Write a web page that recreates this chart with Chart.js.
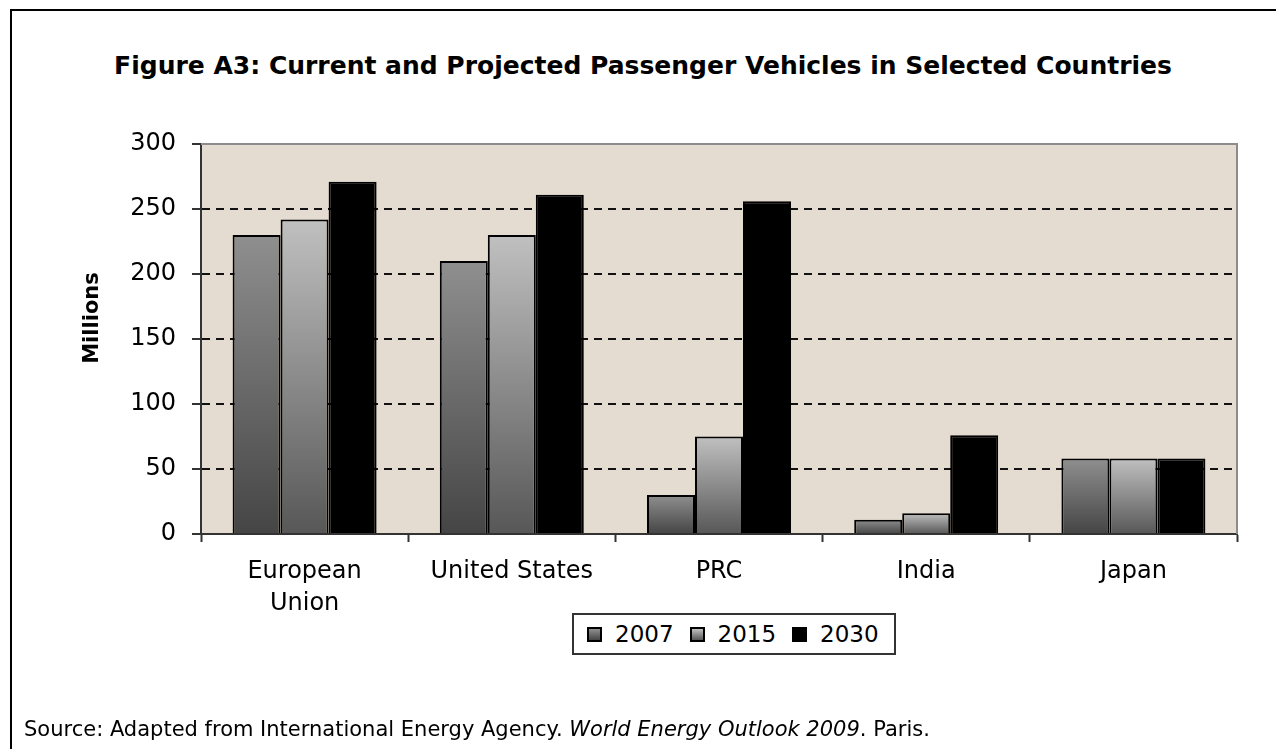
<!DOCTYPE html>
<html>
<head>
<meta charset="utf-8">
<title>Figure A3</title>
<script src="https://cdn.jsdelivr.net/npm/chart.js@4.4.1/dist/chart.umd.min.js"></script>
<style>
  html, body { margin: 0; padding: 0; background: #fff; }
  #wrap { position: relative; width: 1276px; height: 749px; overflow: hidden; }
  #frame {
    position: absolute; left: 10px; top: 9px; width: 1300px; height: 800px;
    border-left: 2px solid #000; border-top: 2px solid #000;
  }
  #title {
    position: absolute; left: 10px; top: 51px; width: 1266px; text-align: center;
    font: bold 25px "DejaVu Sans"; line-height: 29px; color: #000;
  }
  #chart { position: absolute; left: 0; top: 0; }
  #legend {
    position: absolute; left: 572px; top: 613px; height: 38px;
    border: 2px solid #333; background: #fff;
    display: flex; align-items: center; padding: 0 15px 0 13px;
    font: 23px "DejaVu Sans"; color: #000;
  }
  #legend .item { display: flex; align-items: center; margin-right: 16px; }
  #legend .item:last-child { margin-right: 0; }
  #legend .box { width: 11px; height: 11px; border: 2px solid #000; margin-right: 13px; }
  #source {
    position: absolute; left: 24px; top: 717px;
    font: 21px "DejaVu Sans"; line-height: 24px; color: #000; white-space: nowrap;
  }
</style>
</head>
<body>
<div id="wrap">
  <div id="frame"></div>
  <div id="title">Figure A3: Current and Projected Passenger Vehicles in Selected Countries</div>
  <canvas id="chart" width="1276" height="749"></canvas>
  <div id="legend"></div>
  <div id="source">Source: Adapted from International Energy Agency. <i>World Energy Outlook 2009</i>. Paris.</div>
</div>
<script>
// values (millions of passenger vehicles)
const countries = [['European', 'Union'], 'United States', 'PRC', 'India', 'Japan'];
const years = ['2007', '2015', '2030'];
const vehicles2007 = [230, 210, 30, 11, 58];
const vehicles2015 = [242, 230, 75, 16, 58];
const vehicles2030 = [271, 261, 256, 76, 58];
const yMin = 0, yMax = 300, yStep = 50;

// gradient fills: [top, bottom] of each bar
const fills = [['#8f8f8f', '#454545'], ['#c0c0c0', '#575757'], ['#000000', '#000000']];

function barGradient(light, dark) {
    return function(c) {
        const chart = c.chart;
        if (!chart.chartArea || c.type !== 'data') return dark;
        const y = chart.scales.y;
        const top = y.getPixelForValue(c.raw);
        const bottom = y.getPixelForValue(0);
        if (top === bottom) return dark;
        const g = chart.ctx.createLinearGradient(0, top, 0, bottom);
        g.addColorStop(0, light);
        g.addColorStop(1, dark);
        return g;
    };
}

// beige plot background, grey top/right edges and the rotated axis title
const plotFrame = {
    id: 'plotFrame',
    beforeDraw(chart) {
        const { ctx, chartArea: a } = chart;
        ctx.save();
        ctx.fillStyle = '#e4dcd0';
        ctx.fillRect(a.left, a.top, a.width, a.height);
        ctx.restore();
    },
    afterDraw(chart) {
        const { ctx, chartArea: a } = chart;
        ctx.save();
        ctx.strokeStyle = '#8c8c8c';
        ctx.lineWidth = 2;
        ctx.beginPath();
        ctx.moveTo(a.left, a.top);
        ctx.lineTo(a.right, a.top);
        ctx.lineTo(a.right, a.bottom);
        ctx.stroke();

        ctx.translate(93, 318);
        ctx.rotate(-Math.PI / 2);
        ctx.fillStyle = '#000';
        ctx.font = 'bold 21px "DejaVu Sans"';
        ctx.textAlign = 'center';
        ctx.textBaseline = 'middle';
        ctx.fillText('Millions', 0, 0);
        ctx.restore();
    }
};

const series = [vehicles2007, vehicles2015, vehicles2030];

new Chart(document.getElementById('chart'), {
    type: 'bar',
    data: {
        labels: countries,
        datasets: series.map((values, i) => ({
            label: years[i],
            data: values,
            backgroundColor: barGradient(fills[i][0], fills[i][1]),
            borderColor: '#000',
            borderWidth: 2,
            categoryPercentage: 0.695,
            barPercentage: 1.0
        }))
    },
    options: {
        responsive: false,
        animation: false,
        layout: { padding: { left: 0, right: 39, top: 144, bottom: 115 } },
        plugins: {
            legend: { display: false },
            tooltip: { enabled: false }
        },
        scales: {
            x: {
                ticks: {
                    font: { family: 'DejaVu Sans', size: 24, lineHeight: 1.33 },
                    color: '#000',
                    padding: 14,
                    autoSkip: false,
                    maxRotation: 0
                },
                grid: { drawOnChartArea: false, offset: true, tickLength: 8, tickColor: '#333', tickWidth: 2 },
                border: { color: '#333', width: 2 },
                afterFit: s => { s.height = 100; }
            },
            y: {
                min: yMin,
                max: yMax,
                ticks: {
                    stepSize: yStep,
                    font: { family: 'DejaVu Sans', size: 24 },
                    color: '#000',
                    padding: 16
                },
                grid: {
                    color: c => (c.tick && (c.tick.value === yMin || c.tick.value === yMax)) ? 'rgba(0,0,0,0)' : '#111',
                    lineWidth: 2,
                    tickLength: 9,
                    tickColor: '#333',
                    tickWidth: 2,
                    tickBorderDash: []
                },
                border: { color: '#333', width: 2, dash: [8, 6] },
                afterFit: s => { s.width = 201; }
            }
        }
    },
    plugins: [plotFrame]
});

// html legend with boxed items
const legend = document.getElementById('legend');
years.forEach((year, i) => {
    const item = document.createElement('span');
    item.className = 'item';
    item.innerHTML = `<span class="box" style="background:linear-gradient(${fills[i][0]}, ${fills[i][1]})"></span>${year}`;
    legend.appendChild(item);
});
</script>
</body>
</html>
